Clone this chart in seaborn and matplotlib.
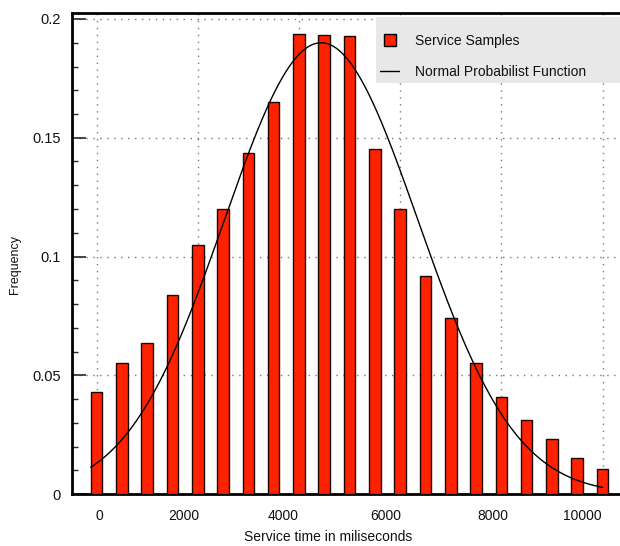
import numpy as np
import pandas as pd
import matplotlib
matplotlib.use("Agg")
import matplotlib.pyplot as plt
from matplotlib.lines import Line2D
from matplotlib.patches import Rectangle
from matplotlib.ticker import FixedLocator, FuncFormatter
import seaborn as sns

# Histogram of service times (bin position in ms, relative frequency)
bin_ms = [0, 525, 1050, 1575, 2100, 2625, 3150, 3675, 4200, 4725, 5250,
          5775, 6300, 6825, 7350, 7875, 8400, 8925, 9450, 9975, 10500]
frequency = [0.0428, 0.0550, 0.0636, 0.0839, 0.1047, 0.1200, 0.1437,
             0.1652, 0.1938, 0.1931, 0.1927, 0.1451, 0.1199, 0.0919,
             0.0740, 0.0550, 0.0407, 0.0310, 0.0232, 0.0152, 0.0105]

# Fitted normal curve parameters
normal_mean_ms = 4660
normal_sd_ms = 2010
normal_peak = 0.19
curve_start_ms, curve_end_ms = -120, 10500

# Axis labelling
xtick_labels = ["0", "2000", "4000", "6000", "8000", "10000"]
xtick_pos_ms = [52, 1800, 3870, 6006, 8227, 10075]
ytick_values = [0, 0.05, 0.1, 0.15, 0.2]

sns.set_style("white")
plt.rcParams["font.family"] = ["Liberation Sans", "DejaVu Sans"]

W, H = 620, 546
fig = plt.figure(figsize=(W / 100, H / 100), dpi=100)

x_lo, x_hi = -510, 11000
px_per_ms = 25.3 / 525
ax_left_px, ax_bottom_px, ax_top_px = 72, 494, 12.5
ax_w_px = (x_hi - x_lo) * px_per_ms
ax = fig.add_axes([ax_left_px / W, (H - ax_bottom_px) / H,
                   ax_w_px / W, (ax_bottom_px - ax_top_px) / H])

df = pd.DataFrame({"ms": bin_ms, "freq": frequency})
sns.barplot(data=df, x="ms", y="freq", native_scale=True, width=0.46,
            color="#FF2200", saturation=1, edgecolor="#1a0500",
            linewidth=1.0, errorbar=None, ax=ax, zorder=3)

xs = np.linspace(curve_start_ms, curve_end_ms, 400)
curve = pd.DataFrame({
    "ms": xs,
    "pdf": normal_peak * np.exp(-0.5 * ((xs - normal_mean_ms) / normal_sd_ms) ** 2),
})
sns.lineplot(data=curve, x="ms", y="pdf", color="black", linewidth=1.0,
             ax=ax, zorder=4)

ax.set_xlim(x_lo, x_hi)
y_top = 0.2 + (19 - ax_top_px) / 2375
ax.set_ylim(0, y_top)

# x axis: labels plus dotted grid every fourth bin
ax.xaxis.set_major_locator(FixedLocator(xtick_pos_ms))
ax.set_xticklabels(xtick_labels)
ax.xaxis.set_minor_locator(FixedLocator(bin_ms[::4]))
ax.tick_params(axis="x", which="both", length=0, pad=11, labelsize=10,
               labelcolor="#111111")

# y axis: inward ticks with minor marks every 0.01
ax.yaxis.set_major_locator(FixedLocator(ytick_values))
ax.yaxis.set_minor_locator(FixedLocator(np.arange(0, 0.2001, 0.01)))
ax.yaxis.set_major_formatter(FuncFormatter(lambda v, p: f"{v:g}"))
ax.tick_params(axis="y", which="major", direction="in", length=10,
               width=1.2, pad=8, labelsize=10.5, labelcolor="#111111",
               left=True)
ax.tick_params(axis="y", which="minor", direction="in", length=4,
               width=1.0, left=True)

ax.set_axisbelow(True)
ax.grid(False)
ax.yaxis.grid(True, which="major", linestyle=(0, (1, 4)), color="#777777",
              linewidth=1.0)
ax.xaxis.grid(True, which="minor", linestyle=(0, (1, 4)), color="#777777",
              linewidth=1.0)

for side in ["left", "bottom", "top"]:
    ax.spines[side].set_visible(True)
    ax.spines[side].set_color("black")
    ax.spines[side].set_linewidth(2.0)
ax.spines["right"].set_visible(False)

ax.set_xlabel("Service time in miliseconds", fontsize=10, color="#111111")
ax.set_ylabel("Frequency", fontsize=9, color="#111111")
ax.xaxis.set_label_coords((328 - ax_left_px) / ax_w_px,
                          (ax_bottom_px - 537) / (ax_bottom_px - ax_top_px))
ax.xaxis.label.set_va("center")
ax.yaxis.set_label_coords((15 - ax_left_px) / ax_w_px,
                          (ax_bottom_px - 264) / (ax_bottom_px - ax_top_px))
ax.yaxis.label.set_va("center")

# legend panel
fig.patches.append(Rectangle((376 / W, 1 - 83 / H), (W - 376) / W + 0.02,
                             66 / H, transform=fig.transFigure,
                             facecolor="#E8E8E8", edgecolor="none",
                             zorder=5))
handles = [
    Line2D([], [], linestyle="none", marker="s", markersize=8.5,
           markerfacecolor="#FF2200", markeredgecolor="black",
           markeredgewidth=1.0),
    Line2D([], [], color="black", linewidth=1.0),
]
leg = fig.legend(handles, ["Service Samples", "Normal Probabilist Function"],
                 loc="upper left", bbox_to_anchor=(380 / W, 1 - 34 / H),
                 frameon=False, fontsize=10, borderpad=0, borderaxespad=0,
                 handlelength=1.4, handletextpad=1.1, labelspacing=1.2)
leg.set_zorder(6)
for t in leg.get_texts():
    t.set_color("#111111")

fig.savefig("out.png", dpi=100)
